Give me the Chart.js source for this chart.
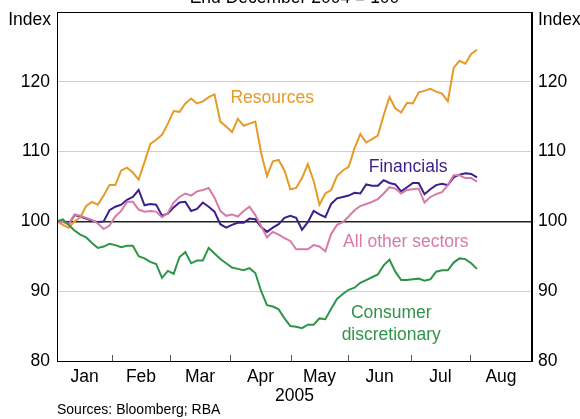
<!DOCTYPE html>
<html>
<head>
<meta charset="utf-8">
<script src="https://cdn.jsdelivr.net/npm/chart.js@4.4.1/dist/chart.umd.min.js"></script>
<style>
  html, body { margin: 0; padding: 0; background: #fff; }
  canvas { display: block; }
</style>
</head>
<body>
<canvas id="sectorChart" width="580" height="419"></canvas>
<script>
// Sector share price indices, end December 2004 = 100
const months = ['Jan', 'Feb', 'Mar', 'Apr', 'May', 'Jun', 'Jul', 'Aug'];
// month boundaries, in observation units
const monthStarts = [0, 9.43, 19.37, 29.66, 40.11, 49.89, 60.69, 70.8, 81.43];
const yTicks = [80, 90, 100, 110, 120, 130];

const resources = [
  100, 99.5, 99.1, 100.0, 100.6, 102.2, 102.8, 102.4, 103.7, 105.2,
  105.2, 107.3, 107.7, 107.0, 106.0, 108.5, 111.1, 111.7, 112.4, 114.0,
  115.8, 115.7, 116.9, 117.6, 116.9, 117.2, 117.8, 118.2, 114.3, 113.6,
  112.8, 114.7, 113.7, 114.0, 114.3, 109.8, 106.5, 108.6, 108.8, 107.3,
  104.6, 104.8, 106.2, 108.2, 105.8, 102.4, 104.0, 104.5, 106.5, 107.3,
  107.8, 110.5, 112.5, 111.3, 111.8, 112.3, 115.2, 117.8, 116.2, 115.6,
  117.0, 116.9, 118.5, 118.7, 119.0, 118.6, 118.3, 117.2, 122.0, 123.0,
  122.6, 124.0, 124.6
];
const financials = [
  100, 100.0, 99.6, 100.9, 100.7, 100.4, 100.1, 99.9, 100.0, 101.6,
  102.1, 102.4, 103.1, 103.5, 104.5, 102.3, 102.5, 102.4, 100.8, 101.1,
  102.0, 102.7, 102.8, 101.5, 101.8, 102.7, 102.1, 101.4, 99.6, 99.1,
  99.5, 99.8, 99.8, 100.4, 100.3, 99.2, 98.5, 99.1, 99.6, 100.5,
  100.8, 100.5, 98.8, 99.9, 101.5, 101.0, 100.6, 102.5, 103.3, 103.5,
  103.7, 104.1, 104.0, 105.3, 105.1, 105.1, 105.9, 105.5, 105.3, 104.3,
  104.9, 105.5, 105.5, 103.9, 104.6, 105.2, 105.4, 105.2, 106.3, 106.7,
  106.9, 106.8, 106.3
];
const otherSectors = [
  100, 99.9, 99.6, 101.0, 100.8, 100.5, 100.2, 99.7, 98.9, 99.4,
  100.7, 101.5, 102.8, 102.8, 101.7, 101.4, 101.5, 101.4, 100.6, 101.2,
  102.7, 103.5, 104.0, 103.7, 104.3, 104.5, 104.8, 103.4, 101.5, 100.8,
  101.0, 100.7, 101.5, 102.1, 100.9, 99.3, 97.7, 98.5, 98.1, 97.6,
  97.2, 96.0, 96.0, 96.0, 96.6, 96.4, 95.7, 98.2, 99.5, 99.9,
  100.7, 101.6, 102.2, 102.5, 102.8, 103.2, 104.0, 104.9, 104.7, 104.0,
  104.5, 104.6, 104.7, 102.7, 103.5, 103.9, 104.2, 105.2, 106.6, 106.6,
  106.2, 106.2, 105.7
];
const consumerDisc = [
  100, 100.3, 99.5, 98.7, 98.1, 97.7, 96.9, 96.2, 96.4, 96.8,
  96.6, 96.3, 96.5, 96.5, 95.0, 94.7, 94.2, 93.9, 91.9, 92.9,
  92.5, 94.9, 95.6, 94.0, 94.4, 94.4, 96.2, 95.4, 94.6, 94.0,
  93.4, 93.2, 93.0, 93.3, 92.6, 90.0, 88.0, 87.8, 87.4, 86.1,
  85.0, 84.9, 84.7, 85.2, 85.2, 86.1, 86.0, 87.5, 88.9, 89.6,
  90.2, 90.5, 91.2, 91.6, 92.0, 92.4, 93.7, 94.5, 92.8, 91.6,
  91.6, 91.7, 91.8, 91.5, 91.7, 92.8, 93.0, 93.0, 94.1, 94.7,
  94.6, 94.0, 93.2
];

const FONT = "'Liberation Sans', Arial, sans-serif";

const toPoints = arr => arr.map((v, i) => ({ x: i, y: v }));

// in-chart series labels, placed in data units
const seriesLabels = [
  { text: 'Resources', x: 36.9, y: 117.7, color: '#E69A28' },
  { text: 'Financials', x: 60.2, y: 107.8, color: '#3B1F8C' },
  { text: 'All other sectors', x: 59.8, y: 97.0, color: '#D67AA8' },
  { text: 'Consumer', x: 57.3, y: 86.8, color: '#2E9447' },
  { text: 'discretionary', x: 57.3, y: 83.7, color: '#2E9447' }
];

const decorations = {
  id: 'decorations',
  afterDatasetsDraw(chart) {
    const { ctx, chartArea: a, scales } = chart;
    const xs = scales.x, ys = scales.y;
    ctx.save();

    // frame
    ctx.strokeStyle = '#000';
    ctx.lineWidth = 1;
    ctx.strokeRect(a.left + 0.5, a.top + 0.5, a.right - a.left - 1, a.bottom - a.top);

    // month boundary ticks, pointing up from the bottom axis
    ctx.strokeStyle = '#555';
    ctx.beginPath();
    monthStarts.slice(1, -1).forEach(v => {
      const px = Math.round(xs.getPixelForValue(v)) + 0.5;
      ctx.moveTo(px, a.bottom);
      ctx.lineTo(px, a.bottom - 6);
    });
    ctx.stroke();

    ctx.font = '17.5px ' + FONT;
    ctx.textBaseline = 'middle';

    seriesLabels.forEach(l => {
      ctx.fillStyle = l.color;
      ctx.textAlign = 'center';
      ctx.fillText(l.text, xs.getPixelForValue(l.x), ys.getPixelForValue(l.y));
    });

    ctx.fillStyle = '#000';
    ctx.textAlign = 'right';
    ctx.fillText('Index', a.left - 6, 20);
    ctx.textAlign = 'left';
    ctx.fillText('Index', a.right + 6, 20);

    ctx.textAlign = 'center';
    ctx.fillText('End December 2004 = 100', (a.left + a.right) / 2, -2);
    ctx.fillText('2005', (a.left + a.right) / 2, 396);

    ctx.font = '14px ' + FONT;
    ctx.textAlign = 'left';
    ctx.fillText('Sources: Bloomberg; RBA', a.left, 410);
    ctx.restore();
  }
};

const line = (label, data, color) => ({
  label,
  data: toPoints(data),
  borderColor: color,
  borderWidth: 2,
  pointRadius: 0,
  tension: 0,
  fill: false
});

const gridColor = ctx => {
  const v = ctx.tick.value;
  if (v === 100) return '#222';
  if (v === 80 || v === 130) return 'rgba(0,0,0,0)';
  return '#cfcfcf';
};

// fixed axis widths, and no extra room for the end tick labels
const fitY = width => s => {
  s.width = width;
  s.paddingTop = 0;
  s.paddingBottom = 0;
};

new Chart(document.getElementById('sectorChart'), {
  type: 'line',
  data: {
    datasets: [
      line('Consumer discretionary', consumerDisc, '#2E9447'),
      line('All other sectors', otherSectors, '#D67AA8'),
      line('Resources', resources, '#E69A28'),
      line('Financials', financials, '#3B1F8C')
    ]
  },
  options: {
    responsive: false,
    animation: false,
    devicePixelRatio: 1,
    layout: { padding: { top: 12, left: 0, right: 0, bottom: 0 } },
    plugins: { legend: { display: false }, tooltip: { enabled: false } },
    scales: {
      x: {
        type: 'linear',
        min: monthStarts[0],
        max: monthStarts[monthStarts.length - 1],
        afterBuildTicks: s => {
          s.ticks = months.map((m, i) => ({ value: (monthStarts[i] + monthStarts[i + 1]) / 2 }));
        },
        afterFit: s => { s.height = 58; s.paddingLeft = 0; s.paddingRight = 0; },
        grid: { display: false },
        border: { display: true, color: '#000', width: 1 },
        ticks: {
          autoSkip: false,
          maxRotation: 0,
          padding: -2,
          color: '#000',
          font: { family: FONT, size: 17.5 },
          callback: (v, i) => months[i]
        }
      },
      y: {
        position: 'left',
        min: 80,
        max: 130,
        afterBuildTicks: s => { s.ticks = yTicks.map(v => ({ value: v })); },
        afterFit: fitY(57),
        grid: { color: gridColor, lineWidth: c => (c.tick.value === 100 ? 1.5 : 1), drawTicks: false },
        border: { display: true, color: '#000' },
        ticks: {
          padding: 7,
          color: '#000',
          font: { family: FONT, size: 17.5 },
          callback: v => (v === 130 ? '' : v)
        }
      },
      y2: {
        position: 'right',
        min: 80,
        max: 130,
        afterBuildTicks: s => { s.ticks = yTicks.map(v => ({ value: v })); },
        afterFit: fitY(48),
        grid: { display: false, drawTicks: false },
        border: { display: true, color: '#000' },
        ticks: {
          padding: 6,
          color: '#000',
          font: { family: FONT, size: 17.5 },
          callback: v => (v === 130 ? '' : v)
        }
      }
    }
  },
  plugins: [decorations]
});
</script>
</body>
</html>
